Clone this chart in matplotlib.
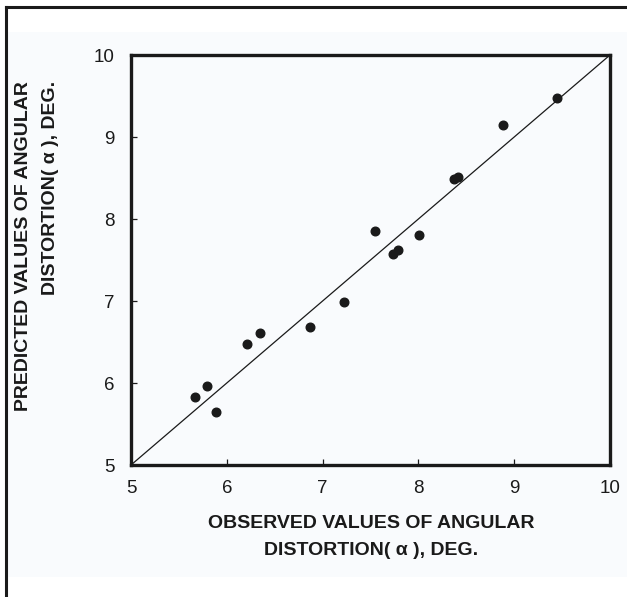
import matplotlib
matplotlib.use("Agg")
import matplotlib.pyplot as plt
from matplotlib.patches import Rectangle
from matplotlib.lines import Line2D

# Observed vs predicted angular distortion (degrees)
observed = [5.67, 5.79, 5.89, 6.21, 6.35, 6.87, 7.22, 7.55, 7.73, 7.79, 8.01, 8.37, 8.41, 8.88, 9.45]
predicted = [5.83, 5.96, 5.65, 6.48, 6.61, 6.68, 6.99, 7.85, 7.57, 7.62, 7.81, 8.49, 8.51, 9.15, 9.48]
ticks = [5, 6, 7, 8, 9, 10]
tick_labels = ["5", "6", "7", "8", "9", "10"]
ref_line = [5, 10]

plt.rcParams["font.family"] = ["Liberation Sans", "DejaVu Sans"]
INK = "#1a1a1a"

W, H = 627, 597
fig = plt.figure(figsize=(W / 100, H / 100), dpi=100)
fig.patch.set_facecolor("white")

# faint paper tint and the outer frame
fig.patches.append(Rectangle((8 / W, 1 - 577 / H), 1, (577 - 32) / H,
                             transform=fig.transFigure, facecolor="#f9fbfd",
                             edgecolor="none", zorder=-5))
fig.lines.append(Line2D([6 / W, 1.0], [1 - 7 / H, 1 - 7 / H], transform=fig.transFigure,
                        color=INK, lw=2.2, solid_capstyle="projecting", zorder=-4))
fig.lines.append(Line2D([6 / W, 6 / W], [1 - 7 / H, 0.0], transform=fig.transFigure,
                        color=INK, lw=2.2, solid_capstyle="projecting", zorder=-4))

ax = fig.add_axes([131 / W, 1 - 465 / H, (610 - 131) / W, (465 - 55) / H])
ax.set_zorder(2)
ax.set_facecolor("none")

ax.plot(ref_line, ref_line, color=INK, lw=0.9, zorder=2)
ax.plot(observed, predicted, "o", color=INK, ms=6.2, mec=INK, zorder=3)

ax.set_xlim(5, 10)
ax.set_ylim(5, 10)
ax.set_xticks(ticks)
ax.set_yticks(ticks)
ax.set_xticklabels(tick_labels)
ax.set_yticklabels(tick_labels)
ax.tick_params(direction="in", length=4, width=0.9, color=INK, labelcolor=INK,
               labelsize=13.5)
ax.tick_params(axis="x", pad=11)
ax.tick_params(axis="y", pad=12)
for sp in ax.spines.values():
    sp.set_linewidth(2.4)
    sp.set_color(INK)

fig.text(371 / W, 1 - 515 / H, "OBSERVED VALUES OF ANGULAR\nDISTORTION( \u03b1 ), DEG.",
         ha="center", va="top", fontsize=14, fontweight="bold", color=INK,
         linespacing=1.8, multialignment="center", zorder=3)
fig.text(37 / W, 1 - 81 / H, "PREDICTED VALUES OF ANGULAR\nDISTORTION( \u03b1 ), DEG.",
         ha="center", va="top", rotation=90, fontsize=14, fontweight="bold", color=INK,
         linespacing=1.8, multialignment="right", zorder=3)

fig.savefig("out.png", dpi=100)
